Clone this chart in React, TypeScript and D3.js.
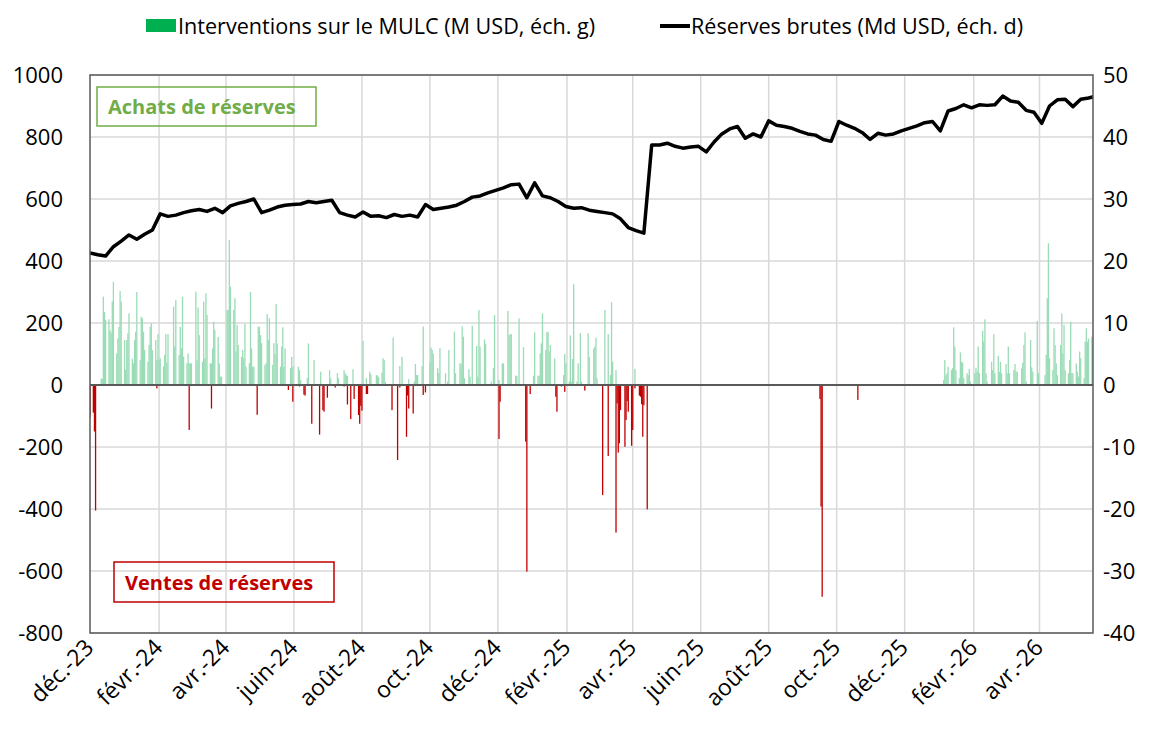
import React, { useEffect, useRef } from 'react';
import * as d3 from 'd3';

// Interventions (M USD), one value per business day, starting 1 Dec 2023
const buysA = [
  0, 0, 0, 0, 0, 0, 21, 20, 285, 236,
  210, 212, 177, 169, 269, 333, 102, 150, 188, 303,
  269, 145, 50, 145, 167, 231, 85, 70, 145, 172,
  300, 80, 220, 215, 172, 113, 75, 129, 188, 199,
  113, 145, 80, 164, 80, 86, 59, 97, 164, 72,
  164, 0, 0, 253, 124, 274, 97, 188, 118, 285,
  91, 70, 102, 70, 70, 70, 0, 301, 80, 250,
  161, 75, 269, 86, 296, 226, 70, 70, 118, 204,
  177, 155, 70, 27, 27, 0, 0, 242, 242, 468,
  317, 242, 280, 108, 194, 129, 91, 113, 86, 197,
  59, 70, 300, 118, 59, 59, 0, 188, 188, 161,
  135, 65, 70, 229, 145, 215, 65, 135, 100, 261,
  134, 59, 124, 186, 59, 118, 0, 0, 54, 91,
  59, 0, 0, 59, 48, 16, 0, 0, 0, 22,
  134, 0, 0, 81, 0, 0, 0, 43, 0, 0,
  0, 0, 0, 48, 22, 0, 0, 0, 38, 22,
  0, 0, 48, 38, 32, 29, 0, 0, 51, 0,
  0, 0, 0, 0, 0, 143, 22, 0, 0, 43,
  35, 0, 0, 32, 30, 25, 40, 86, 80, 10,
  0, 0, 0, 0, 153, 0, 0, 0, 61, 0,
  91, 0, 0, 0, 19, 0, 0, 11, 68, 32,
  32, 0, 61, 189, 0, 0, 0, 73, 121, 113,
  102, 0, 54, 38, 119, 0, 0, 38, 0, 11,
  113, 0, 0, 172, 38, 0, 70, 68, 189, 156,
  22, 0, 51, 27, 0, 191, 0, 126, 27, 242,
  124, 0, 147, 132, 0, 0, 11, 0, 54, 226,
  0, 16, 0, 0, 70, 70, 0, 239, 161, 164,
  164, 0, 30, 30, 0, 215, 0, 122, 0, 0,
  0, 0, 0, 0, 30, 170, 30, 30, 102, 134,
  231, 113, 170, 172, 108, 129, 0, 86, 0, 0,
  0, 0, 0, 32, 100, 70, 11, 160, 11, 84,
  325, 11, 70, 0, 167, 11, 0, 0, 0, 167,
  91, 0, 117, 124, 153, 22, 0, 0, 0, 0,
  242, 164, 0, 32, 267, 75, 48, 0, 0, 0,
  0, 0, 0, 0, 0, 0, 0, 0, 0, 52,
];

// Interventions (M USD), one value per business day, starting 5 Jan 2026
const buysB = [
  16, 81, 32, 38, 59, 48, 54, 186, 124, 48,
  22, 105, 75, 72, 22, 38, 32, 52, 11, 0,
  38, 56, 43, 124, 38, 175, 140, 212, 38, 11,
  0, 75, 48, 164, 38, 94, 43, 75, 38, 0,
  68, 38, 124, 38, 0, 48, 68, 43, 43, 0,
  54, 72, 129, 170, 11, 0, 145, 57, 43, 0,
  207, 38, 0, 0, 0, 32, 97, 280, 457, 86,
  48, 183, 129, 70, 32, 129, 231, 102, 194, 48,
  38, 81, 204, 38, 38, 70, 43, 27, 108, 86,
  22, 140, 183, 140, 150, 156, 135, 150,
];

// Sales of reserves (M USD)
const saleDates = [
  '2023-12-01', '2023-12-04', '2023-12-05', '2023-12-06', '2024-01-30', '2024-02-28',
  '2024-03-19', '2024-04-29', '2024-05-27', '2024-05-31', '2024-06-06', '2024-06-10',
  '2024-06-11', '2024-06-17', '2024-06-24', '2024-06-27', '2024-06-28', '2024-07-01',
  '2024-07-08', '2024-07-16', '2024-07-19', '2024-07-22', '2024-07-25', '2024-07-29',
  '2024-07-30', '2024-07-31', '2024-08-01', '2024-08-05', '2024-08-06', '2024-08-28',
  '2024-09-02', '2024-09-04', '2024-09-10', '2024-09-11', '2024-09-12', '2024-09-16',
  '2024-09-25', '2024-09-27', '2024-12-02', '2024-12-03', '2024-12-26', '2024-12-27',
  '2024-12-30', '2025-01-22', '2025-01-23', '2025-01-27', '2025-01-30', '2025-02-17',
  '2025-03-05', '2025-03-10', '2025-03-17', '2025-03-18', '2025-03-19', '2025-03-20',
  '2025-03-21', '2025-03-25', '2025-03-26', '2025-03-27', '2025-03-28', '2025-03-31',
  '2025-04-01', '2025-04-03', '2025-04-07', '2025-04-08', '2025-04-09', '2025-04-10',
  '2025-04-11', '2025-04-14', '2025-09-16', '2025-09-17', '2025-09-18', '2025-10-20',
];
const saleValues = [
  -104, -89, -150, -405, -11, -145,
  -76, -96, -16, -54, -5, -31,
  -34, -125, -160, -81, -86, -41,
  -8, -5, -63, -110, -45, -97,
  -125, -67, -83, -29, -29, -81,
  -242, -8, -167, -34, -76, -92,
  -32, -24, -174, -54, -183, -602,
  -29, -38, -86, -5, -22, -18,
  -355, -229, -476, -59, -218, -188,
  -81, -199, -113, -52, -86, -196,
  -145, -11, -34, -38, -62, -167,
  -65, -401, -45, -392, -683, -48,
];

// Gross reserves (Md USD), weekly from 1 Dec 2023
const reserves = [
  21.3, 21.0, 20.8, 22.3, 23.2, 24.2, 23.5, 24.3, 25.0, 27.6,
  27.2, 27.4, 27.8, 28.1, 28.3, 28.0, 28.5, 27.8, 28.9, 29.3,
  29.6, 30.0, 27.8, 28.2, 28.7, 29.0, 29.1, 29.2, 29.6, 29.4,
  29.6, 29.8, 27.8, 27.4, 27.1, 27.9, 27.2, 27.3, 27.0, 27.5,
  27.2, 27.4, 27.1, 29.1, 28.3, 28.5, 28.7, 29.0, 29.6, 30.3,
  30.5, 31.0, 31.4, 31.8, 32.3, 32.4, 30.2, 32.6, 30.5, 30.2,
  29.6, 28.8, 28.5, 28.6, 28.2, 28.0, 27.8, 27.6, 26.8, 25.4,
  24.9, 24.5, 38.7, 38.7, 39.0, 38.5, 38.2, 38.4, 38.5, 37.6,
  39.2, 40.5, 41.3, 41.7, 39.8, 40.5, 40.0, 42.6, 41.9, 41.7,
  41.4, 40.9, 40.5, 40.3, 39.6, 39.3, 42.5, 41.9, 41.4, 40.7,
  39.6, 40.6, 40.3, 40.5, 41.0, 41.4, 41.8, 42.3, 42.5, 41.0,
  44.2, 44.6, 45.2, 44.7, 45.2, 45.1, 45.2, 46.6, 45.8, 45.6,
  44.3, 44.0, 42.2, 45.0, 46.0, 46.1, 44.9, 46.1, 46.3, 46.6,
];

const tickLabels = [
  'déc.-23', 'févr.-24', 'avr.-24', 'juin-24', 'août-24', 'oct.-24', 'déc.-24', 'févr.-25',
  'avr.-25', 'juin-25', 'août-25', 'oct.-25', 'déc.-25', 'févr.-26', 'avr.-26',
];
const leftTicks = [-800, -600, -400, -200, 0, 200, 400, 600, 800, 1000];
const rightTicks = [-40, -30, -20, -10, 0, 10, 20, 30, 40, 50];

const FONT = "'Open Sans', 'Noto Sans', sans-serif";

const parse = (s: string) => {
  const [y, m, d] = s.split('-').map(Number);
  return new Date(y, m - 1, d);
};

// step forward over weekdays only
function weekdays(start: Date, n: number) {
  const out: Date[] = [];
  let d = new Date(start);
  while (out.length < n) {
    const wd = d.getDay();
    if (wd !== 0 && wd !== 6) out.push(new Date(d));
    d = d3.timeDay.offset(d, 1);
  }
  return out;
}

export default function App() {
  const ref = useRef<SVGSVGElement>(null);

  useEffect(() => {
    const svg = d3.select(ref.current);
    svg.selectAll('*').remove();

    const left = 90, right = 1093, top = 75, bottom = 633;

    const x = d3.scaleTime()
      .domain([new Date(2023, 11, 1), new Date(2026, 4, 19)])
      .range([left, right]);
    const y = d3.scaleLinear().domain([-800, 1000]).range([bottom, top]);
    const y2 = d3.scaleLinear().domain([-40, 50]).range([bottom, top]);

    const datesA = weekdays(new Date(2023, 11, 1), buysA.length);
    const datesB = weekdays(new Date(2026, 0, 5), buysB.length);
    const buys = [
      ...buysA.map((v, i) => ({ date: datesA[i], v })),
      ...buysB.map((v, i) => ({ date: datesB[i], v })),
    ].filter(d => d.v > 0);
    const sales = saleDates.map((s, i) => ({ date: parse(s), v: saleValues[i] }));
    const line = reserves.map((v, i) => ({ date: d3.timeDay.offset(new Date(2023, 11, 1), 7 * i), v }));

    const tickDates = tickLabels.map((_, i) => d3.timeMonth.offset(new Date(2023, 11, 1), 2 * i));

    svg.append('defs').append('clipPath').attr('id', 'plot')
      .append('rect').attr('x', left).attr('y', top).attr('width', right - left).attr('height', bottom - top);

    // gridlines
    const grid = svg.append('g');
    grid.selectAll('line.h').data(leftTicks).join('line')
      .attr('x1', left).attr('x2', right)
      .attr('y1', d => y(d)).attr('y2', d => y(d))
      .attr('stroke', '#d9d9d9').attr('stroke-width', 1.5);
    grid.selectAll('line.v').data(tickDates.slice(1)).join('line')
      .attr('x1', d => x(d)).attr('x2', d => x(d))
      .attr('y1', top).attr('y2', bottom)
      .attr('stroke', '#d9d9d9').attr('stroke-width', 1.5);

    const plot = svg.append('g').attr('clip-path', 'url(#plot)');
    const bw = 1.3;

    plot.append('g').selectAll('rect').data(buys).join('rect')
      .attr('x', d => x(d.date) - bw / 2)
      .attr('width', bw)
      .attr('y', d => y(d.v))
      .attr('height', d => y(0) - y(d.v))
      .attr('fill', '#9adcb6');

    plot.append('g').selectAll('rect').data(sales).join('rect')
      .attr('x', d => x(d.date) - bw / 2)
      .attr('width', bw)
      .attr('y', y(0))
      .attr('height', d => y(d.v) - y(0))
      .attr('fill', '#c00000');

    // zero line
    svg.append('line')
      .attr('x1', left).attr('x2', right).attr('y1', y(0)).attr('y2', y(0))
      .attr('stroke', '#595959').attr('stroke-width', 2);

    plot.append('path')
      .datum(line)
      .attr('fill', 'none')
      .attr('stroke', '#000')
      .attr('stroke-width', 3.5)
      .attr('stroke-linejoin', 'round')
      .attr('d', d3.line<{ date: Date; v: number }>().x(d => x(d.date)).y(d => y2(d.v)));

    // frame
    svg.append('rect')
      .attr('x', left).attr('y', top).attr('width', right - left).attr('height', bottom - top)
      .attr('fill', 'none').attr('stroke', '#595959').attr('stroke-width', 1.5);

    // axes labels
    svg.append('g').selectAll('text').data(leftTicks).join('text')
      .attr('x', 63).attr('y', d => y(d)).attr('dy', '0.35em')
      .attr('text-anchor', 'end')
      .attr('font-family', FONT).attr('font-size', 22).attr('fill', '#000')
      .text(d => d);
    svg.append('g').selectAll('text').data(rightTicks).join('text')
      .attr('x', 1103).attr('y', d => y2(d)).attr('dy', '0.35em')
      .attr('font-family', FONT).attr('font-size', 22).attr('fill', '#000')
      .text(d => d);
    svg.append('g').selectAll('text').data(tickLabels).join('text')
      .attr('transform', (_, i) => `translate(${x(tickDates[i]) + 5},649) rotate(-45)`)
      .attr('text-anchor', 'end')
      .attr('font-family', FONT).attr('font-size', 23).attr('fill', '#000')
      .text(d => d);

    // legend
    const lg = svg.append('g').attr('font-family', FONT).attr('font-size', 21.6);
    lg.append('rect').attr('x', 146).attr('y', 19).attr('width', 30).attr('height', 13).attr('fill', '#00b050');
    lg.append('text').attr('x', 178).attr('y', 34).text('Interventions sur le MULC (M USD, éch. g)');
    lg.append('line').attr('x1', 660).attr('x2', 690).attr('y1', 26).attr('y2', 26)
      .attr('stroke', '#000').attr('stroke-width', 4);
    lg.append('text').attr('x', 691).attr('y', 34).text('Réserves brutes (Md USD, éch. d)');

    // annotation boxes
    const ann = svg.append('g').attr('font-family', FONT).attr('font-weight', 'bold').attr('font-size', 20);
    ann.append('rect').attr('x', 97).attr('y', 87).attr('width', 219).attr('height', 39)
      .attr('fill', 'none').attr('stroke', '#70ad47').attr('stroke-width', 1.5);
    ann.append('text').attr('x', 108).attr('y', 114).attr('fill', '#70ad47').text('Achats de réserves');
    ann.append('rect').attr('x', 114).attr('y', 562).attr('width', 220).attr('height', 40)
      .attr('fill', 'none').attr('stroke', '#c00000').attr('stroke-width', 1.5);
    ann.append('text').attr('x', 125).attr('y', 590).attr('fill', '#c00000').text('Ventes de réserves');
  }, []);

  return (
    <svg ref={ref} width={1160} height={729}
      style={{ position: 'absolute', left: 0, top: 0, background: '#fff' }} />
  );
}
